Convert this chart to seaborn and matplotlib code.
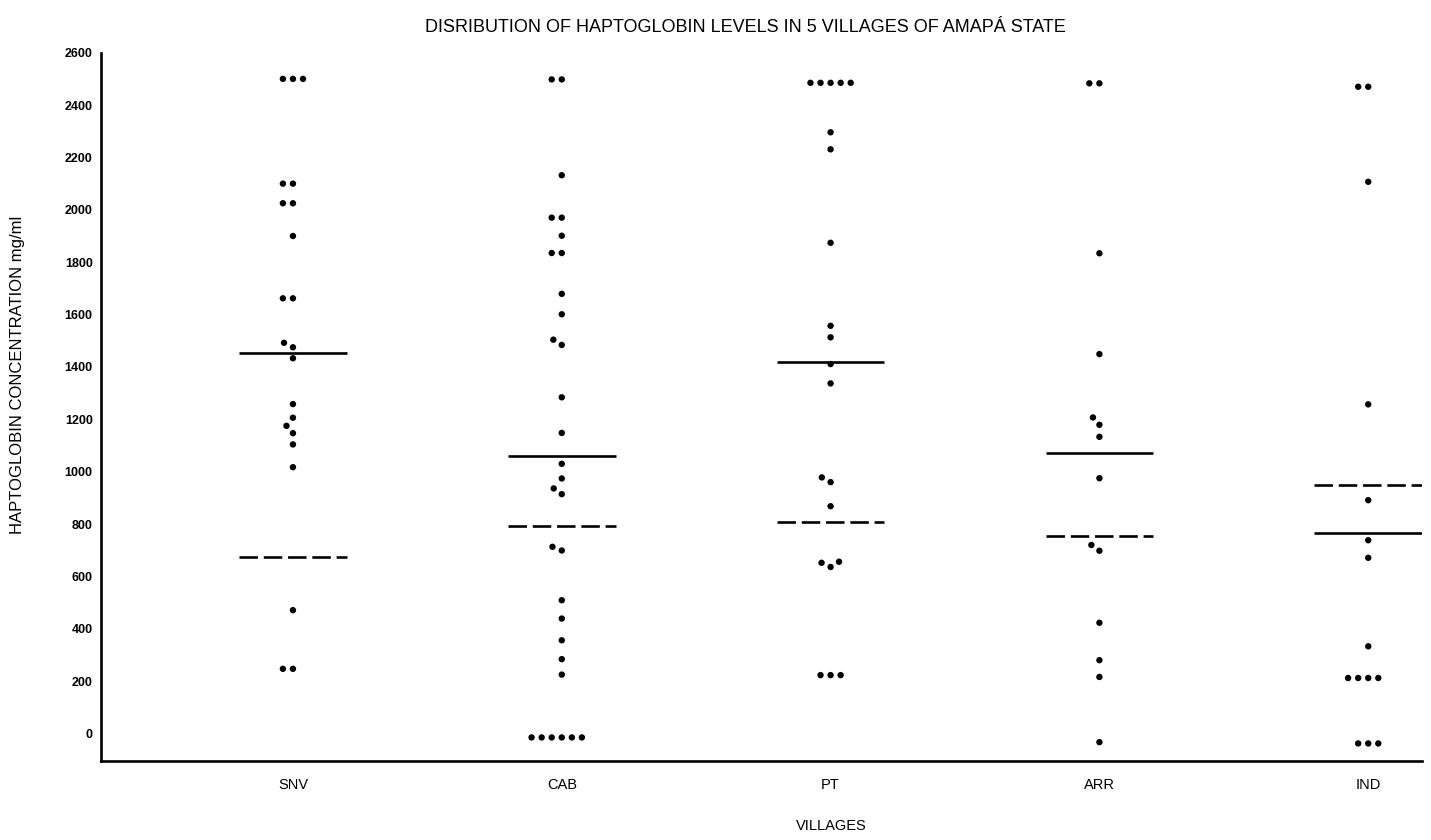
import numpy as np
import pandas as pd
import matplotlib
matplotlib.use("Agg")
import matplotlib.pyplot as plt
import seaborn as sns

# ---------------- data ----------------
villages = ["SNV", "CAB", "PT", "ARR", "IND"]

snv_values = [2500, 2500, 2500, 2100, 2100, 2025, 2025, 1900, 1662, 1662,
              1492, 1475, 1433, 1258, 1206, 1175, 1147, 1104, 1017, 471,
              247, 247]
cab_values = [2498, 2498, 2132, 1970, 1970, 1901, 1835, 1835, 1679, 1601,
              1504, 1484, 1284, 1148, 1030, 974, 936, 914, 713, 699,
              509, 439, 356, 284, 225, -15, -15, -15, -15, -15, -15]
pt_values = [2485, 2485, 2485, 2485, 2485, 2296, 2231, 1874, 1557, 1513,
             1411, 1337, 978, 960, 868, 656, 652, 636, 223, 223, 223]
arr_values = [2483, 2483, 1834, 1449, 1207, 1179, 1133, 975, 720, 698,
              423, 280, 216, -33]
ind_values = [2470, 2470, 2107, 1257, 891, 738, 671, 333, 212, 212,
              212, 212, -38, -38, -38]

solid_line = [1454, 1060, 1420, 1072, 766]
dashed_line = [675, 793, 807, 753, 948]

y_ticks = list(range(0, 2601, 200))

title = "DISRIBUTION OF HAPTOGLOBIN LEVELS IN 5 VILLAGES OF AMAPÁ STATE"
y_label = "HAPTOGLOBIN CONCENTRATION mg/ml"
x_label = "VILLAGES"

# ---------------- frame ----------------
all_values = [snv_values, cab_values, pt_values, arr_values, ind_values]
df = pd.DataFrame({
    "village": np.concatenate([[v] * len(vals) for v, vals in zip(villages, all_values)]),
    "level": np.concatenate(all_values),
})

sns.set_style("white")
plt.rcParams["font.family"] = ["Liberation Sans", "DejaVu Sans"]
plt.rcParams["text.color"] = "black"
plt.rcParams["axes.labelcolor"] = "black"
plt.rcParams["xtick.color"] = "black"
plt.rcParams["ytick.color"] = "black"

W, H = 1431, 840
fig = plt.figure(figsize=(W / 100, H / 100), dpi=100)
ax = fig.add_axes([101 / W, 1 - 761 / H, (1422 - 101) / W, (761 - 52.7) / H])

sns.swarmplot(data=df, x="village", y="level", order=villages, color="black",
              size=4.6, linewidth=2.3, edgecolor="none", ax=ax, zorder=3)

xpos = np.arange(len(villages))
ax.hlines(solid_line, xpos - 0.2, xpos + 0.2, colors="black", linewidth=1.9, zorder=4)
ax.hlines(dashed_line, xpos - 0.2, xpos + 0.2, colors="black", linewidth=1.9,
          linestyles=(0, (7, 2.2)), zorder=4)

ax.set_xlim(-0.714, 4.2)
ax.set_ylim(-105, 2600)
ax.set_yticks(y_ticks)
ax.set_yticklabels([str(t) for t in y_ticks], fontsize=9, fontweight="bold")
ax.set_xticks(xpos)
ax.set_xticklabels(villages, fontsize=10.5)

for side in ["top", "right"]:
    ax.spines[side].set_visible(False)
for side in ["left", "bottom"]:
    ax.spines[side].set_linewidth(1.9)
    ax.spines[side].set_color("black")

ax.tick_params(axis="y", direction="out", length=4.5, width=1.4, pad=1.5, colors="black")
ax.tick_params(axis="x", length=0, pad=12, colors="black")

ax.set_xlabel(x_label, fontsize=10.5, color="black")
ax.set_ylabel(y_label, fontsize=12, color="black")
ax.xaxis.set_label_coords((831 - 101) / (1422 - 101), -(826 - 761) / (761 - 52.7))
ax.yaxis.set_label_coords((25 - 101) / (1422 - 101), (761 - 375) / (761 - 52.7))
ax.xaxis.label.set_va("center")

fig.text(745 / W, 1 - 27 / H, title, ha="center", va="center", fontsize=13, color="black")

fig.savefig("out.png", dpi=100, facecolor="white")
